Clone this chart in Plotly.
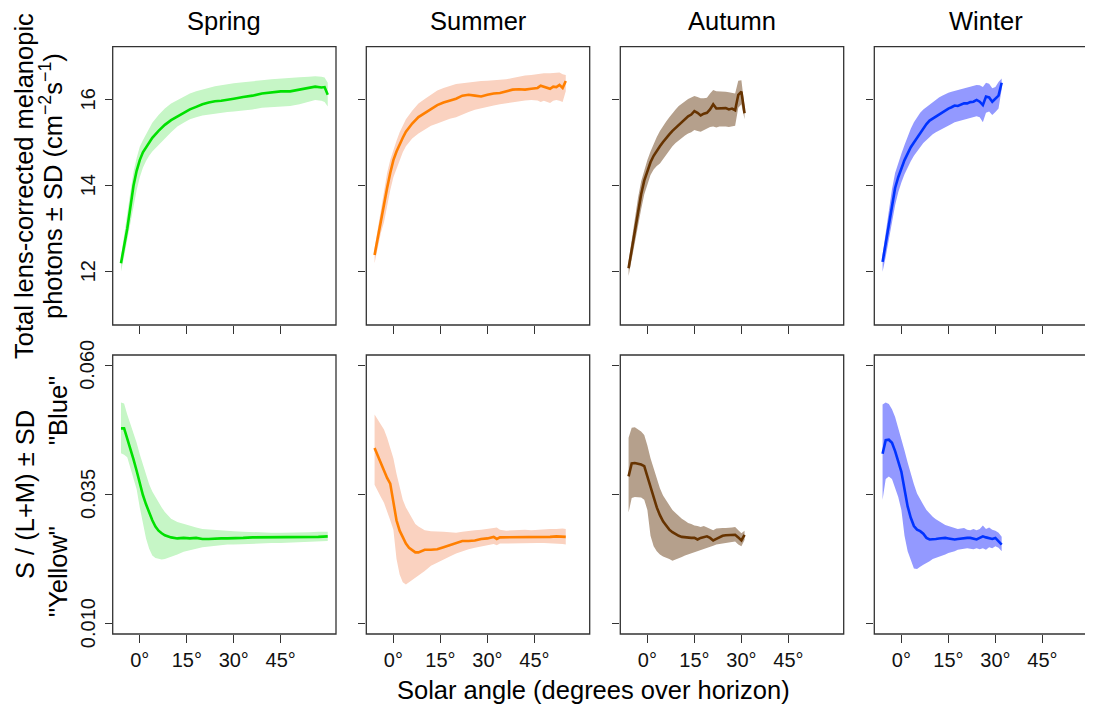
import plotly.graph_objects as go

W, H = 1093, 710
OFF = 8  # page body margin in the browser
FONT = "Liberation Sans, Arial, Helvetica, sans-serif"

seasons = ["Spring", "Summer", "Autumn", "Winter"]
line_colors = ["#00E000", "#FF7F00", "#663300", "#0033FF"]
fill_colors = ["#C6F6C6", "#FAD2C0", "#B5A08C", "#9399FF"]

# ---------------- Top row: melanopic photons (log10) ----------------
spring_top_angle = [-6, -5, -4, -3, -2, -1, 0, 1, 2, 3, 4, 6, 8, 10, 12, 14, 16, 18, 20, 22, 24, 26, 28, 30,
                    33, 36, 39, 42, 45, 48, 51, 54, 56, 58, 59, 60]
spring_top_mean = [12.2, 12.6, 13.0, 13.5, 14.0, 14.35, 14.6, 14.78, 14.9, 15.02, 15.12, 15.28, 15.42, 15.53,
                   15.62, 15.7, 15.78, 15.84, 15.9, 15.94, 15.97, 15.98, 16.0, 16.03, 16.07, 16.1, 16.15, 16.18,
                   16.2, 16.2, 16.24, 16.28, 16.31, 16.29, 16.3, 16.12]
spring_top_hi = [12.35, 12.8, 13.35, 13.85, 14.32, 14.65, 14.91, 15.06, 15.2, 15.35, 15.47, 15.65, 15.8, 15.92,
                 16.0, 16.08, 16.15, 16.2, 16.24, 16.28, 16.32, 16.34, 16.37, 16.39, 16.41, 16.44, 16.46, 16.48,
                 16.5, 16.51, 16.53, 16.54, 16.55, 16.54, 16.52, 16.4]
spring_top_lo = [12.0, 12.35, 12.7, 13.1, 13.5, 13.9, 14.2, 14.42, 14.58, 14.7, 14.8, 14.96, 15.1, 15.25,
                 15.38, 15.47, 15.55, 15.6, 15.64, 15.67, 15.69, 15.7, 15.72, 15.73, 15.75, 15.78, 15.82, 15.84,
                 15.85, 15.86, 15.9, 15.96, 16.0, 15.98, 15.95, 15.85]

summer_top_angle = [-6, -5, -4, -3, -2, -1, 0, 1, 2, 3, 4, 6, 8, 10, 12, 14, 16, 18, 20, 22, 24, 26, 28, 30,
                    32, 34, 36, 38, 40, 42, 44, 46, 47, 48, 50, 51, 52, 53, 54, 55]
summer_top_mean = [12.39, 12.8, 13.2, 13.55, 13.95, 14.3, 14.6, 14.8, 14.98, 15.12, 15.26, 15.45, 15.6, 15.7,
                   15.8, 15.88, 15.94, 15.98, 16.03, 16.1, 16.12, 16.1, 16.08, 16.12, 16.15, 16.16, 16.2, 16.24,
                   16.25, 16.24, 16.26, 16.28, 16.33, 16.31, 16.26, 16.31, 16.3, 16.35, 16.28, 16.44]
summer_top_hi = [12.55, 13.0, 13.45, 13.9, 14.3, 14.6, 14.85, 15.05, 15.25, 15.42, 15.55, 15.75, 15.92, 16.02,
                 16.12, 16.22, 16.28, 16.33, 16.37, 16.39, 16.41, 16.43, 16.44, 16.45, 16.46, 16.47, 16.48, 16.51,
                 16.54, 16.57, 16.58, 16.6, 16.61, 16.62, 16.62, 16.63, 16.64, 16.64, 16.6, 16.58]
summer_top_lo = [12.2, 12.55, 12.9, 13.15, 13.55, 13.9, 14.2, 14.4, 14.6, 14.78, 14.92, 15.1, 15.22, 15.32,
                 15.4, 15.45, 15.5, 15.56, 15.6, 15.66, 15.72, 15.77, 15.8, 15.84, 15.87, 15.9, 15.92, 15.95,
                 15.97, 15.99, 16.0, 15.99, 15.95, 15.98, 15.93, 15.98, 16.0, 15.98, 15.95, 16.2]

autumn_top_angle = [-6, -5, -4, -3, -2, -1, 0, 1, 2, 3, 4, 5, 6, 7, 8, 9, 10, 11, 12, 13, 14, 15, 16, 17, 18,
                    19, 20, 21, 22, 23, 24, 25, 26, 27, 28, 29, 30, 31]
autumn_top_mean = [12.08, 12.5, 12.95, 13.4, 13.8, 14.12, 14.35, 14.55, 14.7, 14.82, 14.92, 15.02, 15.12, 15.2,
                   15.28, 15.35, 15.42, 15.5, 15.55, 15.62, 15.66, 15.74, 15.7, 15.64, 15.68, 15.7, 15.78, 15.9,
                   15.8, 15.8, 15.8, 15.81, 15.78, 15.8, 15.76, 16.12, 16.19, 15.69]
autumn_top_hi = [12.25, 12.75, 13.25, 13.72, 14.1, 14.38, 14.6, 14.8, 14.98, 15.14, 15.28, 15.4, 15.5, 15.6,
                 15.7, 15.78, 15.86, 15.92, 15.97, 16.02, 16.06, 16.09, 16.07, 16.04, 16.04, 16.05, 16.15, 16.23,
                 16.2, 16.2, 16.2, 16.19, 16.18, 16.16, 16.15, 16.45, 16.46, 15.85]
autumn_top_lo = [11.9, 12.25, 12.65, 13.05, 13.45, 13.8, 14.05, 14.25, 14.38, 14.46, 14.52, 14.62, 14.72, 14.82,
                 14.92, 15.0, 15.06, 15.12, 15.17, 15.22, 15.25, 15.3, 15.28, 15.26, 15.3, 15.33, 15.37, 15.38,
                 15.36, 15.38, 15.38, 15.38, 15.37, 15.38, 15.4, 15.82, 15.9, 15.55]

winter_top_angle = [-6, -5, -4, -3, -2, -1, 0, 1, 2, 3, 4, 5, 6, 7, 8, 9, 10, 11, 12, 13, 14, 15, 16, 17, 18,
                    19, 20, 21, 22, 23, 24, 25, 26, 27, 28, 29, 30, 31, 32]
winter_top_mean = [12.23, 12.65, 13.1, 13.55, 13.95, 14.2, 14.42, 14.6, 14.75, 14.9, 15.01, 15.12, 15.24, 15.34,
                   15.44, 15.52, 15.57, 15.62, 15.66, 15.71, 15.75, 15.8, 15.83, 15.87, 15.86, 15.9, 15.92, 15.92,
                   15.95, 15.96, 16.0, 15.96, 15.88, 16.08, 16.06, 15.96, 16.02, 16.1, 16.4]
winter_top_hi = [12.4, 12.9, 13.45, 13.92, 14.3, 14.55, 14.75, 14.95, 15.15, 15.33, 15.48, 15.6, 15.7, 15.78,
                 15.84, 15.9, 15.96, 16.01, 16.06, 16.1, 16.14, 16.17, 16.19, 16.21, 16.22, 16.24, 16.26, 16.28,
                 16.3, 16.33, 16.35, 16.34, 16.3, 16.4, 16.38, 16.27, 16.3, 16.42, 16.5]
winter_top_lo = [12.0, 12.35, 12.7, 13.12, 13.55, 13.85, 14.08, 14.27, 14.42, 14.57, 14.7, 14.8, 14.9, 15.0,
                 15.07, 15.14, 15.2, 15.25, 15.3, 15.34, 15.37, 15.4, 15.44, 15.48, 15.5, 15.53, 15.55, 15.57,
                 15.58, 15.6, 15.62, 15.6, 15.48, 15.7, 15.73, 15.65, 15.72, 15.8, 16.25]

# ---------------- Bottom row: S / (L+M) ----------------
spring_bot_angle = [-6, -5, -4, -3, -2, -1, 0, 1, 2, 3, 4, 5, 6, 7, 8, 10, 12, 14, 16, 18, 20, 22, 24, 26, 28,
                    30, 33, 36, 39, 42, 45, 48, 51, 54, 57, 60]
spring_bot_mean = [0.0478, 0.0478, 0.0458, 0.0440, 0.0418, 0.0396, 0.0372, 0.0349, 0.0331, 0.0314, 0.0300,
                   0.0288, 0.0280, 0.0275, 0.0271, 0.0267, 0.0265, 0.0266, 0.0265, 0.0266, 0.0264, 0.0264,
                   0.0265, 0.0265, 0.0265, 0.0265, 0.0266, 0.0267, 0.0267, 0.0267, 0.0268, 0.0267, 0.0268,
                   0.0268, 0.0268, 0.0269]
spring_bot_hi = [0.0528, 0.0526, 0.0505, 0.0487, 0.0468, 0.0450, 0.0428, 0.0407, 0.0390, 0.0370, 0.0356,
                 0.0345, 0.0334, 0.0325, 0.0316, 0.0303, 0.0297, 0.0293, 0.0289, 0.0286, 0.0283, 0.0282,
                 0.0281, 0.0280, 0.0279, 0.0279, 0.0278, 0.0277, 0.0277, 0.0276, 0.0276, 0.0276, 0.0276,
                 0.0277, 0.0278, 0.0278]
spring_bot_lo = [0.0430, 0.0427, 0.0422, 0.0400, 0.0380, 0.0360, 0.0325, 0.0292, 0.0265, 0.0245, 0.0232,
                 0.0227, 0.0225, 0.0224, 0.0225, 0.0229, 0.0234, 0.0239, 0.0242, 0.0245, 0.0248, 0.0250,
                 0.0251, 0.0252, 0.0253, 0.0253, 0.0254, 0.0255, 0.0255, 0.0256, 0.0256, 0.0257, 0.0257,
                 0.0258, 0.0259, 0.0260]

summer_bot_angle = [-6, -5, -4, -3, -2, -1, 0, 1, 2, 3, 4, 5, 6, 7, 8, 10, 12, 14, 16, 18, 20, 22, 24, 26, 28,
                    30, 32, 33, 34, 36, 38, 40, 42, 44, 46, 48, 50, 52, 54, 55]
summer_bot_mean = [0.0440, 0.0425, 0.0410, 0.0395, 0.0382, 0.0371, 0.0336, 0.0300, 0.0280, 0.0267, 0.0255,
                   0.0247, 0.0242, 0.0238, 0.0238, 0.0243, 0.0243, 0.0244, 0.0248, 0.0252, 0.0257, 0.0260,
                   0.0260, 0.0261, 0.0264, 0.0265, 0.0268, 0.0264, 0.0267, 0.0267, 0.0267, 0.0267, 0.0268,
                   0.0267, 0.0268, 0.0268, 0.0268, 0.0269, 0.0268, 0.0268]
summer_bot_hi = [0.0505, 0.0495, 0.0485, 0.0476, 0.0460, 0.0440, 0.0420, 0.0390, 0.0365, 0.0340, 0.0325,
                 0.0315, 0.0305, 0.0293, 0.0288, 0.0281, 0.0279, 0.0279, 0.0278, 0.0277, 0.0276, 0.0278,
                 0.0280, 0.0281, 0.0282, 0.0283, 0.0285, 0.0286, 0.0282, 0.0280, 0.0281, 0.0281, 0.0282,
                 0.0281, 0.0282, 0.0282, 0.0283, 0.0283, 0.0284, 0.0283]
summer_bot_lo = [0.0369, 0.0357, 0.0345, 0.0334, 0.0318, 0.0300, 0.0282, 0.0225, 0.0195, 0.0180, 0.0176,
                 0.0180, 0.0184, 0.0189, 0.0193, 0.0202, 0.0212, 0.0218, 0.0224, 0.0230, 0.0236, 0.0240,
                 0.0244, 0.0247, 0.0250, 0.0252, 0.0254, 0.0252, 0.0255, 0.0256, 0.0256, 0.0256, 0.0256,
                 0.0256, 0.0256, 0.0256, 0.0255, 0.0255, 0.0254, 0.0253]

autumn_bot_angle = [-6, -5, -4, -3, -2, -1, 0, 1, 2, 3, 4, 5, 6, 7, 8, 9, 10, 11, 12, 13, 14, 15, 16, 17, 18,
                    19, 20, 21, 22, 23, 24, 25, 26, 27, 28, 29, 30, 31]
autumn_bot_mean = [0.0385, 0.0410, 0.0411, 0.0410, 0.0408, 0.0405, 0.0385, 0.0365, 0.0345, 0.0325, 0.0310,
                   0.0298, 0.0290, 0.0282, 0.0277, 0.0273, 0.0270, 0.0268, 0.0267, 0.0266, 0.0266, 0.0266,
                   0.0263, 0.0266, 0.0268, 0.0269, 0.0266, 0.0261, 0.0264, 0.0267, 0.0270, 0.0271, 0.0271,
                   0.0271, 0.0272, 0.0267, 0.0261, 0.0272]
autumn_bot_hi = [0.0460, 0.0479, 0.0480, 0.0476, 0.0472, 0.0465, 0.0445, 0.0420, 0.0400, 0.0380, 0.0362,
                 0.0348, 0.0338, 0.0328, 0.0320, 0.0314, 0.0308, 0.0303, 0.0299, 0.0295, 0.0293, 0.0290,
                 0.0289, 0.0287, 0.0289, 0.0286, 0.0283, 0.0281, 0.0284, 0.0285, 0.0285, 0.0285, 0.0285,
                 0.0286, 0.0287, 0.0280, 0.0275, 0.0280]
autumn_bot_lo = [0.0315, 0.0343, 0.0345, 0.0345, 0.0344, 0.0340, 0.0320, 0.0270, 0.0250, 0.0240, 0.0234,
                 0.0230, 0.0227, 0.0225, 0.0222, 0.0225, 0.0227, 0.0229, 0.0232, 0.0234, 0.0236, 0.0238,
                 0.0240, 0.0242, 0.0244, 0.0247, 0.0249, 0.0251, 0.0253, 0.0255, 0.0256, 0.0257, 0.0257,
                 0.0258, 0.0259, 0.0253, 0.0250, 0.0262]

winter_bot_angle = [-6, -5, -4, -3, -2, -1, 0, 1, 2, 3, 4, 5, 6, 7, 8, 9, 10, 11, 12, 13, 14, 15, 16, 17, 18,
                    19, 20, 21, 22, 23, 24, 25, 26, 27, 28, 29, 30, 31, 32]
winter_bot_mean = [0.0429, 0.0455, 0.0456, 0.0450, 0.0434, 0.0415, 0.0394, 0.0360, 0.0327, 0.0305, 0.0289,
                   0.0282, 0.0279, 0.0274, 0.0266, 0.0263, 0.0263, 0.0264, 0.0265, 0.0266, 0.0266, 0.0265,
                   0.0264, 0.0263, 0.0264, 0.0265, 0.0266, 0.0266, 0.0266, 0.0264, 0.0263, 0.0266, 0.0269,
                   0.0267, 0.0266, 0.0264, 0.0266, 0.0260, 0.0253]
winter_bot_hi = [0.0524, 0.0528, 0.0525, 0.0515, 0.0500, 0.0480, 0.0458, 0.0435, 0.0412, 0.0390, 0.0370,
                 0.0352, 0.0340, 0.0330, 0.0320, 0.0313, 0.0307, 0.0302, 0.0298, 0.0294, 0.0291, 0.0289,
                 0.0287, 0.0285, 0.0283, 0.0284, 0.0285, 0.0282, 0.0281, 0.0283, 0.0281, 0.0283, 0.0290,
                 0.0283, 0.0286, 0.0282, 0.0280, 0.0276, 0.0268]
winter_bot_lo = [0.0340, 0.0380, 0.0385, 0.0380, 0.0365, 0.0345, 0.0320, 0.0270, 0.0240, 0.0222, 0.0207,
                 0.0206, 0.0210, 0.0214, 0.0218, 0.0221, 0.0225, 0.0228, 0.0230, 0.0232, 0.0234, 0.0237,
                 0.0239, 0.0240, 0.0243, 0.0244, 0.0245, 0.0246, 0.0245, 0.0244, 0.0246, 0.0244, 0.0246,
                 0.0243, 0.0248, 0.0246, 0.0250, 0.0247, 0.0240]

top_data = [
    (spring_top_angle, spring_top_mean, spring_top_lo, spring_top_hi),
    (summer_top_angle, summer_top_mean, summer_top_lo, summer_top_hi),
    (autumn_top_angle, autumn_top_mean, autumn_top_lo, autumn_top_hi),
    (winter_top_angle, winter_top_mean, winter_top_lo, winter_top_hi),
]
bot_data = [
    (spring_bot_angle, spring_bot_mean, spring_bot_lo, spring_bot_hi),
    (summer_bot_angle, summer_bot_mean, summer_bot_lo, summer_bot_hi),
    (autumn_bot_angle, autumn_bot_mean, autumn_bot_lo, autumn_bot_hi),
    (winter_bot_angle, winter_bot_mean, winter_bot_lo, winter_bot_hi),
]

x_tickvals = [0, 15, 30, 45]
x_ticktext = ["0°", "15°", "30°", "45°"]
top_tickvals = [12, 14, 16]
top_ticktext = ["12", "14", "16"]
bot_tickvals = [0.010, 0.035, 0.060]
bot_ticktext = ["0.010", "0.035", "0.060"]

# ---------------- layout geometry (screen pixels) ----------------
col_left = [112.7, 366.3, 620.3, 874.3]
col_right = [336.0, 589.7, 843.7, 1097.7]
row_top = [46.7, 355.0]
row_bottom = [325.0, 634.0]
x_range = [-8.64, 62.64]
top_range = [10.76, 17.24]
bot_range = [0.0080, 0.0620]
ylabel_x = 87.5  # centre of the rotated y tick labels

def px(x):
    return (x - OFF) / W

def py(y):
    return 1 - (y - OFF) / H

TICKFONT = dict(size=20, family=FONT, color="#111111")
TITLEFONT = dict(size=25.5, family=FONT, color="black")

fig = go.Figure()
layout = dict(
    width=W, height=H,
    autosize=False,
    margin=dict(l=0, r=0, t=0, b=0, pad=0, autoexpand=False),
    paper_bgcolor="white", plot_bgcolor="white",
    showlegend=False,
    font=dict(family=FONT, color="black", size=20),
)
shapes = []
annotations = []

for r in range(2):
    for c in range(4):
        n = r * 4 + c + 1
        xs = "x" if n == 1 else f"x{n}"
        ys = "y" if n == 1 else f"y{n}"
        xk = "xaxis" if n == 1 else f"xaxis{n}"
        yk = "yaxis" if n == 1 else f"yaxis{n}"
        ang, mean, lo, hi = (top_data if r == 0 else bot_data)[c]
        yvals = top_tickvals if r == 0 else bot_tickvals
        ytext = top_ticktext if r == 0 else bot_ticktext

        fig.add_trace(go.Scatter(
            x=list(ang) + list(ang)[::-1], y=list(hi) + list(lo)[::-1],
            fill="toself", fillcolor=fill_colors[c], mode="lines",
            line=dict(width=0, color=fill_colors[c]), hoverinfo="skip",
            xaxis=xs, yaxis=ys))
        fig.add_trace(go.Scatter(
            x=ang, y=mean, mode="lines",
            line=dict(width=2.6, color=line_colors[c]),
            xaxis=xs, yaxis=ys))

        layout[xk] = dict(
            domain=[px(col_left[c]), px(col_right[c])], range=x_range, anchor=ys,
            automargin=False,
            showgrid=False, zeroline=False, showline=False,
            tickmode="array", tickvals=x_tickvals, ticktext=x_ticktext,
            ticks="outside", ticklen=8, tickwidth=1.2, tickcolor="#333333",
            showticklabels=(r == 1), tickfont=TICKFONT,
            fixedrange=True,
        )
        layout[yk] = dict(
            domain=[py(row_bottom[r]), py(row_top[r])],
            range=top_range if r == 0 else bot_range, anchor=xs,
            automargin=False,
            showgrid=False, zeroline=False, showline=False,
            tickmode="array", tickvals=yvals, ticktext=ytext,
            ticks="outside", ticklen=7, tickwidth=1.2, tickcolor="#333333",
            showticklabels=False,
            fixedrange=True,
        )
        # rotated y tick labels (parallel to the axis), first column only
        if c == 0:
            for v, t in zip(yvals, ytext):
                annotations.append(dict(
                    text=t, x=px(ylabel_x), y=v, xref="paper", yref=ys,
                    textangle=-90, xanchor="center", yanchor="middle",
                    showarrow=False, font=TICKFONT))
        shapes.append(dict(
            type="rect", xref="paper", yref="paper",
            x0=px(col_left[c]), x1=px(col_right[c]),
            y0=py(row_bottom[r]), y1=py(row_top[r]),
            line=dict(color="#333333", width=1.3), fillcolor="rgba(0,0,0,0)",
            layer="above"))

# panel titles
for c in range(4):
    annotations.append(dict(
        text=seasons[c], x=px((col_left[c] + col_right[c]) / 2), y=py(21),
        xref="paper", yref="paper", xanchor="center", yanchor="middle",
        showarrow=False, font=TITLEFONT))

# axis titles
annotations += [
    dict(text="Solar angle (degrees over horizon)", x=px(593), y=py(690),
         xref="paper", yref="paper", xanchor="center", yanchor="middle",
         showarrow=False, font=TITLEFONT),
    dict(text="Total lens-corrected melanopic", x=px(24), y=py(186), textangle=-90,
         xref="paper", yref="paper", xanchor="center", yanchor="middle",
         showarrow=False, font=TITLEFONT),
    dict(text="photons ± SD (cm<sup>−2</sup>s<sup>−1</sup>)", x=px(51), y=py(186), textangle=-90,
         xref="paper", yref="paper", xanchor="center", yanchor="middle",
         showarrow=False, font=TITLEFONT),
    dict(text="S / (L+M) ± SD", x=px(25), y=py(495), textangle=-90,
         xref="paper", yref="paper", xanchor="center", yanchor="middle",
         showarrow=False, font=TITLEFONT),
    dict(text='"Blue"', x=px(58), y=py(411), textangle=-90,
         xref="paper", yref="paper", xanchor="center", yanchor="middle",
         showarrow=False, font=TITLEFONT),
    dict(text='"Yellow"', x=px(58), y=py(572), textangle=-90,
         xref="paper", yref="paper", xanchor="center", yanchor="middle",
         showarrow=False, font=TITLEFONT),
]

layout["shapes"] = shapes
layout["annotations"] = annotations
fig.update_layout(**layout)
fig.write_html("out.html", config={"displayModeBar": False})
